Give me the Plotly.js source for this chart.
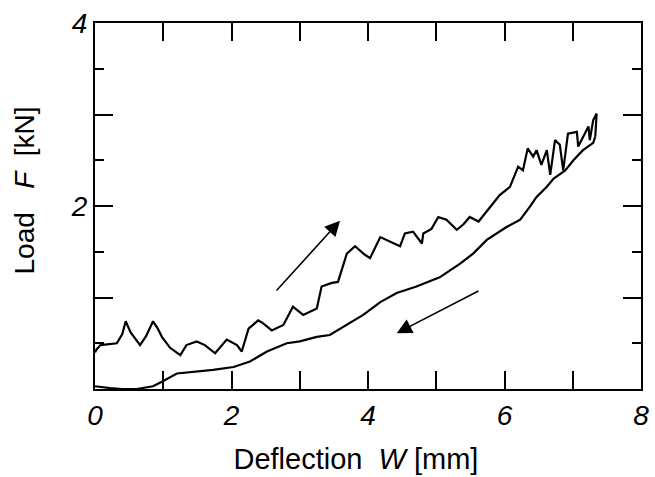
<!DOCTYPE html>
<html>
<head>
<meta charset="utf-8">
<script src="https://cdn.plot.ly/plotly-3.0.1.min.js"></script>
<style>html,body{margin:0;padding:0;background:#fff;}#chart{width:655px;height:477px;}</style>
</head>
<body>
<div id="chart"></div>
<script>
// Loading branch (deflection W [mm], load F [kN])
const loadX = [0.00, 0.02, 0.08, 0.32, 0.40, 0.45, 0.52, 0.66, 0.75, 0.85, 0.92, 0.98, 1.10, 1.25, 1.34, 1.49, 1.61, 1.76, 1.93, 2.08, 2.15, 2.25, 2.39, 2.46, 2.59, 2.76, 2.90, 3.05, 3.25, 3.32, 3.47, 3.56, 3.69, 3.81, 3.95, 4.03, 4.18, 4.32, 4.47, 4.54, 4.66, 4.79, 4.81, 4.93, 5.03, 5.15, 5.30, 5.40, 5.49, 5.62, 5.79, 5.93, 6.08, 6.15, 6.20, 6.27, 6.34, 6.42, 6.47, 6.54, 6.62, 6.67, 6.74, 6.81, 6.86, 6.93, 7.06, 7.08, 7.15, 7.23, 7.25, 7.30, 7.35, 7.33];
const loadY = [0.40, 0.43, 0.48, 0.50, 0.60, 0.74, 0.62, 0.48, 0.58, 0.74, 0.66, 0.57, 0.45, 0.37, 0.48, 0.52, 0.48, 0.39, 0.54, 0.48, 0.41, 0.66, 0.75, 0.72, 0.64, 0.70, 0.90, 0.81, 0.88, 1.12, 1.16, 1.17, 1.48, 1.56, 1.47, 1.43, 1.66, 1.61, 1.56, 1.70, 1.72, 1.59, 1.70, 1.75, 1.88, 1.85, 1.74, 1.80, 1.88, 1.83, 1.99, 2.12, 2.21, 2.34, 2.43, 2.39, 2.63, 2.54, 2.61, 2.45, 2.61, 2.34, 2.72, 2.67, 2.39, 2.79, 2.81, 2.65, 2.76, 2.87, 2.72, 2.94, 3.01, 2.76];
// Unloading branch
const unloadX = [7.33, 7.30, 7.15, 7.01, 6.89, 6.72, 6.62, 6.47, 6.37, 6.23, 6.03, 5.89, 5.74, 5.54, 5.35, 5.05, 4.71, 4.42, 4.18, 3.93, 3.69, 3.44, 3.25, 3.00, 2.81, 2.52, 2.27, 2.03, 1.73, 1.44, 1.20, 0.98, 0.85, 0.61, 0.40, 0.22, 0.02, 0.00];
const unloadY = [2.76, 2.69, 2.61, 2.50, 2.39, 2.30, 2.21, 2.10, 1.99, 1.85, 1.77, 1.70, 1.63, 1.48, 1.37, 1.22, 1.12, 1.05, 0.95, 0.81, 0.70, 0.59, 0.57, 0.52, 0.50, 0.41, 0.30, 0.24, 0.21, 0.19, 0.17, 0.08, 0.03, 0.00, 0.00, 0.01, 0.03, 0.03];
// Direction arrows: [tail, head] in data units
const arrowUp = [[2.64, 1.06], [3.59, 1.84]];
const arrowDown = [[5.64, 1.08], [4.42, 0.61]];
// Ticks
const xTickVals = [0, 1, 2, 3, 4, 5, 6, 7, 8];
const xTickText = ['0', '', '2', '', '4', '', '6', '', '8'];
const yTickVals = [0, 1, 2, 3, 4];
const yTickText = ['', '', '2', '', '4'];
const yMinorVals = [0.5, 1.5, 2.5, 3.5];

const lineStyle = {color: '#000', width: 2.2};
const traces = [
  {x: loadX, y: loadY, mode: 'lines', line: lineStyle, name: 'loading', hoverinfo: 'skip'},
  {x: unloadX, y: unloadY, mode: 'lines', line: lineStyle, name: 'unloading', hoverinfo: 'skip'}
];

function arrowAnn(a) {
  return {x: a[1][0], y: a[1][1], ax: a[0][0], ay: a[0][1], xref: 'x', yref: 'y', axref: 'x', ayref: 'y',
    text: '', showarrow: true, arrowhead: 2, arrowsize: 1.9, arrowwidth: 1.6, arrowcolor: '#000'};
}

const font = {family: 'Liberation Sans, Arial, sans-serif', color: '#000'};
const layout = {
  width: 655, height: 477,
  margin: {l: 95, r: 14, t: 23, b: 88},
  paper_bgcolor: '#fff', plot_bgcolor: '#fff',
  showlegend: false,
  font: font,
  xaxis: {
    range: [0, 8], tickmode: 'array', tickvals: xTickVals, ticktext: xTickText,
    ticks: 'inside', ticklen: 18, tickwidth: 2, tickcolor: '#000',
    showline: true, linecolor: '#000', linewidth: 2, mirror: 'allticks',
    showgrid: false, zeroline: false,
    tickfont: {family: font.family, size: 28, color: '#000', style: 'italic'},
    title: {text: 'Deflection&nbsp;&nbsp;<i>W</i> [mm]&nbsp;&nbsp;&nbsp;', font: {family: font.family, size: 29, color: '#000'}, standoff: 19}
  },
  yaxis: {
    range: [0, 4], tickmode: 'array', tickvals: yTickVals, ticktext: yTickText,
    ticks: 'inside', ticklen: 18, tickwidth: 2, tickcolor: '#000',
    minor: {tickmode: 'array', tickvals: yMinorVals, ticks: 'inside', ticklen: 9, tickwidth: 2, tickcolor: '#000', showgrid: false},
    showline: true, linecolor: '#000', linewidth: 2, mirror: 'allticks',
    showgrid: false, zeroline: false,
    tickfont: {family: font.family, size: 28, color: '#000', style: 'italic'},
    title: {text: '&nbsp;&nbsp;&nbsp;&nbsp;Load&nbsp;&nbsp;&nbsp;<i>F</i>&nbsp;&nbsp;[kN]', font: {family: font.family, size: 28, color: '#000'}, standoff: 28}
  },
  annotations: [arrowAnn(arrowUp), arrowAnn(arrowDown)]
};

Plotly.newPlot('chart', traces, layout, {staticPlot: true, displayModeBar: false});
</script>
</body>
</html>
